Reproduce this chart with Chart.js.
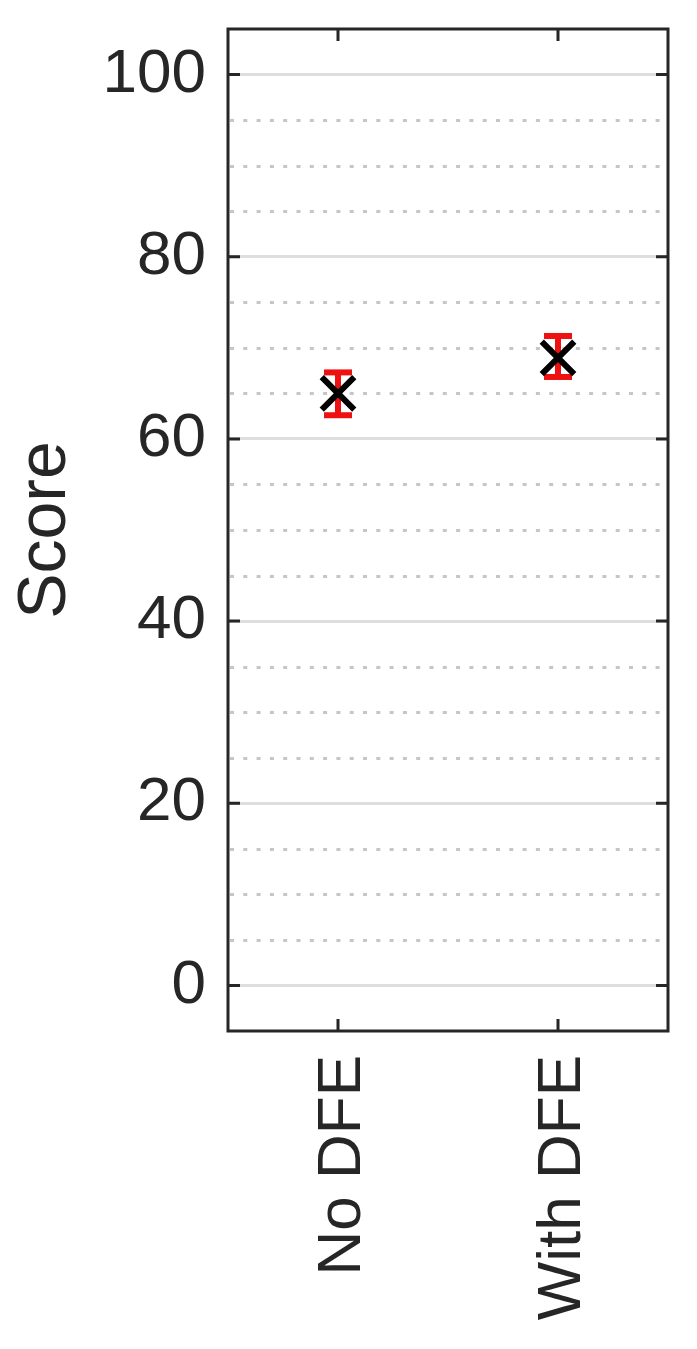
<!DOCTYPE html>
<html>
<head>
<meta charset="utf-8">
<script src="https://cdn.jsdelivr.net/npm/chart.js@4/dist/chart.umd.min.js"></script>
<style>
  html, body { margin: 0; padding: 0; background: #fff; }
  #wrap { width: 697px; height: 1349px; }
</style>
</head>
<body>
<div id="wrap"><canvas id="myChart" width="697" height="1349"></canvas></div>
<script>
// values
var categories = ['No DFE', 'With DFE'];
var scores = [65.0, 68.9];
var errLow = [62.6, 66.8];
var errHigh = [67.3, 71.3];
var yTicks = [0, 20, 40, 60, 80, 100];
var yMinor = [5, 10, 15, 25, 30, 35, 45, 50, 55, 65, 70, 75, 85, 90, 95];

var ink = '#262626';

// dotted minor grid + red error bars, under the markers
var underPlugin = {
  id: 'under',
  beforeDatasetsDraw: function (chart) {
    var ctx = chart.ctx, a = chart.chartArea;
    var xs = chart.scales.x, ys = chart.scales.y;
    ctx.save();
    ctx.strokeStyle = '#c6c6c6';
    ctx.lineWidth = 3;
    ctx.setLineDash([4, 9.3]);
    yMinor.forEach(function (v) {
      var y = Math.round(ys.getPixelForValue(v)) + 0.5;
      ctx.beginPath();
      ctx.moveTo(a.left + 2, y);
      ctx.lineTo(a.right, y);
      ctx.stroke();
    });
    ctx.setLineDash([]);
    ctx.strokeStyle = '#ee1111';
    ctx.fillStyle = '#ee1111';
    ctx.lineWidth = 6;
    for (var i = 0; i < categories.length; i++) {
      var x = xs.getPixelForValue(i);
      var yt = ys.getPixelForValue(errHigh[i]);
      var yb = ys.getPixelForValue(errLow[i]);
      ctx.beginPath();
      ctx.moveTo(x, yt);
      ctx.lineTo(x, yb);
      ctx.stroke();
      ctx.fillRect(x - 14, yt - 3, 28, 6);
      ctx.fillRect(x - 14, yb - 3, 28, 6);
    }
    ctx.restore();
  }
};

// box frame with inward ticks on all sides
var framePlugin = {
  id: 'frame',
  afterDraw: function (chart) {
    var ctx = chart.ctx, a = chart.chartArea;
    var xs = chart.scales.x, ys = chart.scales.y;
    var tl = 12;
    ctx.save();
    ctx.strokeStyle = ink;
    ctx.lineWidth = 3;
    yTicks.forEach(function (v) {
      var y = ys.getPixelForValue(v);
      ctx.beginPath();
      ctx.moveTo(a.left, y); ctx.lineTo(a.left + tl, y);
      ctx.moveTo(a.right, y); ctx.lineTo(a.right - tl, y);
      ctx.stroke();
    });
    categories.forEach(function (c, i) {
      var x = xs.getPixelForValue(i);
      ctx.beginPath();
      ctx.moveTo(x, a.top); ctx.lineTo(x, a.top + tl);
      ctx.moveTo(x, a.bottom); ctx.lineTo(x, a.bottom - tl);
      ctx.stroke();
    });
    ctx.strokeRect(a.left, a.top, a.right - a.left, a.bottom - a.top);
    ctx.restore();
  }
};

var ctx = document.getElementById('myChart').getContext('2d');
var chart = new Chart(ctx, {
  type: 'line',
  data: {
    labels: categories,
    datasets: [{
      data: scores,
      showLine: false,
      pointStyle: 'crossRot',
      pointRadius: 23,
      pointHoverRadius: 23,
      pointBorderWidth: 6,
      pointBorderColor: '#000',
      pointBackgroundColor: '#000'
    }]
  },
  options: {
    responsive: false,
    animation: false,
    events: [],
    layout: { padding: { top: 28, right: 26, left: 0, bottom: 0 } },
    plugins: { legend: { display: false }, tooltip: { enabled: false } },
    scales: {
      x: {
        type: 'category',
        offset: true,
        grid: { display: false, drawTicks: false },
        border: { display: false },
        ticks: {
          color: ink,
          font: { family: "'Liberation Sans', Arial, sans-serif", size: 62 },
          padding: 24,
          labelOffset: 5,
          minRotation: 90,
          maxRotation: 90,
          autoSkip: false
        },
        afterFit: function (s) {
          s.height = 318;
          s.paddingLeft = 0; s.paddingRight = 0;
        }
      },
      y: {
        min: -5,
        max: 105,
        afterBuildTicks: function (s) {
          s.ticks = yTicks.map(function (v) { return { value: v }; });
        },
        grid: { color: '#dedede', lineWidth: 3, drawTicks: false },
        border: { display: false },
        ticks: {
          color: ink,
          font: { family: "'Liberation Sans', Arial, sans-serif", size: 62 },
          padding: 22
        },
        title: {
          display: true,
          text: 'Score',
          color: ink,
          font: { family: "'Liberation Sans', Arial, sans-serif", size: 68 },
          padding: { top: 5, bottom: 0 }
        },
        afterFit: function (s) {
          s.width = 228;
          s.paddingTop = 0; s.paddingBottom = 0;
        }
      }
    }
  },
  plugins: [underPlugin, framePlugin]
});
</script>
</body>
</html>
